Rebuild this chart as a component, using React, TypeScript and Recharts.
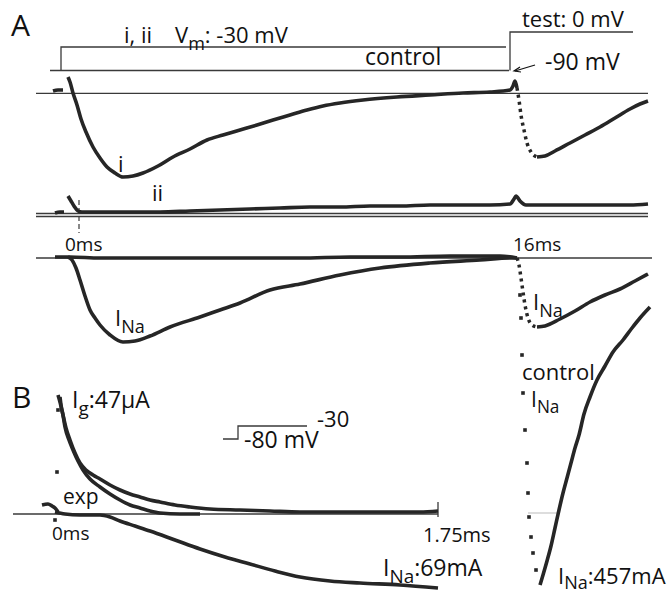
import React from "react";
import { ComposedChart, Line, Scatter, XAxis, YAxis } from "recharts";

type P = { x: number; y: number };
const pts = (a: number[][]): P[] => a.map(([x, y]) => ({ x, y }));

// Protocol (voltage steps), panel A
const stepLow = pts([[50, 70.5], [509, 70.5]]);
const stepControl = pts([[61, 70.5], [61, 47], [506, 47]]);
const stepTest = pts([[510, 70.5], [510, 32], [633, 32]]);

// Baselines
const base1 = pts([[36, 93.3], [648, 93.3]]);
const base2a = pts([[36, 213.5], [648, 213.5]]);
const base2b = pts([[36, 216.5], [648, 216.5]]);
const base3 = pts([[36, 258], [652, 258]]);
const baseB = pts([[13, 514], [438, 514]]);
const tickB = pts([[438, 502], [438, 517]]);
const baseCtl = pts([[528, 513], [560, 513]]);
const zeroMark = pts([[79, 200], [79, 233]]);

// Trace i (gating current, control)
const traceIStart = pts([[53, 91], [58, 90], [63, 90]]);
const traceI = pts([[68, 77], [70, 82], [73, 93], [77, 105], [81, 119], [86, 132], [93, 147], [100, 158], [107, 167], [115, 173], [123, 177], [133, 176], [143, 173], [158, 166], [173, 157], [190, 149], [207, 140], [223, 135], [240, 130], [257, 125], [273, 120], [290, 115], [307, 110], [323, 106], [340, 103], [363, 100], [397, 97], [430, 95], [463, 93], [490, 92], [510, 90], [513, 86], [515, 81], [517, 88]]);
const traceIDrop = pts([[517, 88], [519, 100], [521, 115], [524, 130], [527, 143], [531, 152], [537, 157]]);
const traceITest = pts([[537, 157], [545, 156], [555, 151], [570, 143], [585, 135], [600, 127], [615, 118], [630, 109], [640, 104], [648, 101]]);

// Trace ii
const traceIIStart = pts([[55, 213], [60, 212], [64, 212]]);
const traceII = pts([[68, 196], [71, 201], [74, 206], [78, 211], [82, 212], [100, 212], [130, 212], [160, 212], [190, 211], [220, 210], [250, 209], [280, 208], [310, 207], [340, 207], [370, 206], [400, 206], [430, 205], [460, 205], [490, 205], [510, 204], [514, 199], [516, 196], [520, 201], [526, 205], [560, 205], [600, 205], [630, 205], [648, 204]]);

// Flat trace and I_Na, panel A bottom
const traceFlat = pts([[55, 257], [70, 257], [100, 258], [150, 258], [200, 258], [250, 258], [300, 258], [350, 257], [400, 257], [450, 256], [500, 256], [517, 258]]);
const traceNa = pts([[68, 257], [72, 260], [76, 268], [80, 280], [85, 296], [90, 310], [95, 318], [100, 325], [110, 335], [123, 342], [135, 341], [150, 336], [170, 327], [200, 317], [220, 310], [240, 303], [270, 290], [300, 284], [340, 275], [380, 268], [430, 263], [480, 260], [510, 258], [517, 258]]);
const traceNaDrop = pts([[517, 258], [519, 265], [521, 278], [523, 292], [525, 305], [528, 318], [532, 325], [537, 327]]);
const traceNaTest = pts([[537, 327], [545, 326], [560, 319], [575, 311], [590, 302], [605, 295], [620, 289], [635, 281], [648, 274]]);

// Control I_Na (large)
const ctlDots = pts([[520, 295], [521, 318], [522, 355], [523, 393], [525, 430], [527, 463], [528, 493], [529, 517], [531, 537], [533, 553], [536, 570]]);
const ctlRise = pts([[540, 585], [543, 575], [547, 561], [551, 546], [555, 528], [559, 510], [563, 493], [567, 478], [571, 463], [575, 448], [579, 435], [584, 414], [590, 397], [597, 380], [605, 366], [613, 352], [623, 340], [632, 328], [640, 318], [650, 307]]);

// Panel B
const igFit = pts([[60, 397], [61, 405], [63, 415], [65, 427], [69, 440], [73, 450], [78, 461], [83, 470], [90, 479], [100, 487], [110, 494], [120, 500], [130, 505], [140, 508], [150, 511], [160, 513], [180, 514], [200, 514]]);
const igData = pts([[58, 395], [60, 402], [63, 415], [66, 428], [70, 440], [75, 453], [80, 463], [86, 470], [93, 475], [100, 479], [110, 485], [120, 490], [130, 494], [140, 497], [150, 500], [160, 502], [175, 505], [190, 507], [210, 509], [240, 510], [270, 511], [300, 512], [340, 512], [380, 512], [420, 512], [438, 511]]);
const igDots = pts([[58, 410], [57, 472], [55, 520]]);
const bStart = pts([[42, 505], [48, 504], [52, 506], [55, 508], [58, 512]]);
const naB = pts([[55, 512], [65, 514], [80, 515], [100, 515], [110, 517], [120, 521], [135, 526], [150, 531], [175, 540], [200, 549], [225, 557], [250, 564], [275, 571], [300, 577], [330, 581], [360, 583], [400, 585], [438, 588]]);
const scaleBar = pts([[223, 439], [238, 439], [238, 426], [307, 426]]);

const W = 669;
const H = 596;
const TR = "#262626";
const THIN = "#3a3a3a";
const FONT = "'Open Sans', 'Liberation Sans', sans-serif";

const thinSeries = [stepLow, stepControl, stepTest, base1, base2a, base2b, base3, baseB, tickB, scaleBar];
const thickSeries = [traceIStart, traceI, traceITest, traceIIStart, traceII, traceFlat, traceNa, traceNaTest, ctlRise, igFit, igData, bStart, naB];
const dottedSeries = [traceIDrop, traceNaDrop];
const dotSeries = [ctlDots, igDots];

const Sub = ({ main, sub, rest, x, y, size, dy = 0.3 }: { main: string; sub: string; rest?: string; x: number; y: number; size: number; dy?: number }) => (
  <text x={x} y={y} fontSize={size} fontFamily={FONT} fill="#111">
    {main}
    <tspan dy={size * dy} fontSize={size * 0.82}>{sub}</tspan>
    {rest ? <tspan dy={-size * dy}>{rest}</tspan> : null}
  </text>
);

const DotShape = (props: any) => <rect x={props.cx - 1.8} y={props.cy - 1.8} width={3.6} height={3.6} fill={TR} />;

export default function App() {
  return (
    <div style={{ position: "absolute", left: 0, top: 0, width: W, height: H, background: "#fff" }}>
      <ComposedChart width={W} height={H} margin={{ top: 0, right: 0, bottom: 0, left: 0 }}>
        <XAxis type="number" dataKey="x" domain={[0, W]} hide allowDataOverflow />
        <YAxis type="number" dataKey="y" domain={[0, H]} reversed hide allowDataOverflow />
        {thinSeries.map((d, i) => (
          <Line key={"t" + i} data={d} dataKey="y" stroke={THIN} strokeWidth={1.3} dot={false} activeDot={false} isAnimationActive={false} type="linear" />
        ))}
        <Line data={baseCtl} dataKey="y" stroke="#bbb" strokeWidth={1} dot={false} activeDot={false} isAnimationActive={false} />
        <Line data={zeroMark} dataKey="y" stroke={THIN} strokeWidth={1.2} strokeDasharray="5 3" dot={false} activeDot={false} isAnimationActive={false} />
        {thickSeries.map((d, i) => (
          <Line key={"k" + i} data={d} dataKey="y" stroke={TR} strokeWidth={3.6} dot={false} activeDot={false} isAnimationActive={false} type="monotone" strokeLinejoin="round" />
        ))}
        {dottedSeries.map((d, i) => (
          <Line key={"d" + i} data={d} dataKey="y" stroke={TR} strokeWidth={3.5} strokeDasharray="3 4" dot={false} activeDot={false} isAnimationActive={false} type="monotone" />
        ))}
        {dotSeries.map((d, i) => (
          <Scatter key={"p" + i} data={d} dataKey="y" shape={DotShape} isAnimationActive={false} />
        ))}
      </ComposedChart>
      <svg width={W} height={H} style={{ position: "absolute", left: 0, top: 0, pointerEvents: "none" }}>
        <text x={11} y={36} fontSize={30} fontFamily={FONT} fill="#111">A</text>
        <text x={124} y={43} fontSize={22} fontFamily={FONT} fill="#111">i, ii</text>
        <Sub x={175} y={43} size={22} main="V" sub="m" rest=": -30 mV" />
        <text x={365} y={65} fontSize={23} fontFamily={FONT} fill="#111">control</text>
        <text x={522} y={27} fontSize={22} fontFamily={FONT} fill="#111">test: 0 mV</text>
        <text x={545} y={70} fontSize={23} fontFamily={FONT} fill="#111">-90 mV</text>
        <line x1={535} y1={65} x2={515} y2={71} stroke="#111" strokeWidth={1.2} />
        <polyline points="520,67 514,71 521,72" fill="none" stroke="#111" strokeWidth={1.2} />
        <text x={118} y={172} fontSize={22} fontFamily={FONT} fill="#111">i</text>
        <text x={152} y={201} fontSize={22} fontFamily={FONT} fill="#111">ii</text>
        <text x={65} y={251} fontSize={19} fontFamily={FONT} fill="#111">0ms</text>
        <text x={513} y={251} fontSize={19} fontFamily={FONT} fill="#111">16ms</text>
        <Sub x={115} y={326} size={22} main="I" sub="Na" />
        <Sub x={533} y={310} size={22} main="I" sub="Na" />
        <text x={12} y={408} fontSize={30} fontFamily={FONT} fill="#111">B</text>
        <Sub x={72} y={408} size={23} main="I" sub="g" rest=":47µA" />
        <text x={317} y={427} fontSize={22} fontFamily={FONT} fill="#111">-30</text>
        <text x={244} y={448} fontSize={23} fontFamily={FONT} fill="#111">-80 mV</text>
        <text x={63} y={504} fontSize={21} fontFamily={FONT} fill="#111">exp</text>
        <text x={52} y={540} fontSize={19} fontFamily={FONT} fill="#111">0ms</text>
        <text x={423} y={542} fontSize={20} fontFamily={FONT} fill="#111">1.75ms</text>
        <Sub x={383} y={576} size={23} main="I" sub="Na" rest=":69mA" />
        <text x={522} y={380} fontSize={22} fontFamily={FONT} fill="#111">control</text>
        <Sub x={531} y={407} size={21} main="I" sub="Na" />
        <Sub x={558} y={584} size={22} dy={0.22} main="I" sub="Na" rest=":457mA" />
      </svg>
    </div>
  );
}
